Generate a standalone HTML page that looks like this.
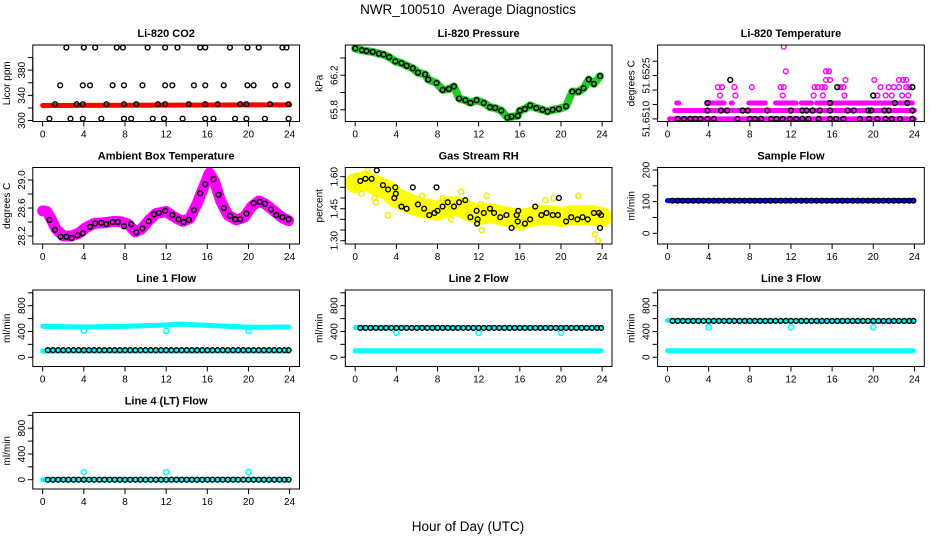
<!DOCTYPE html>
<html><head><meta charset="utf-8"><style>
html,body{margin:0;padding:0;background:#fff;}
svg{display:block;font-family:"Liberation Sans",Arial,sans-serif;}
</style></head><body>
<svg id="chart" width="936" height="540" viewBox="0 0 936 540" xmlns="http://www.w3.org/2000/svg">
<text x="468" y="14" text-anchor="middle" font-size="13.5">NWR_100510&#160;&#160;Average Diagnostics</text>
<text x="468" y="531" text-anchor="middle" font-size="13.5">Hour of Day (UTC)</text>
</svg>
<script>
// ---------- data ----------
const xTicks=[0,4,8,12,16,20,24];
const flowHours=[0.5,1.0,1.5,2.0,2.5,3.0,3.5,4.0,4.5,5.0,5.5,6.0,6.5,7.0,7.5,8.0,8.5,9.0,9.5,10.0,10.5,11.0,11.5,12.0,12.5,13.0,13.5,14.0,14.5,15.0,15.5,16.0,16.5,17.0,17.5,18.0,18.5,19.0,19.5,20.0,20.5,21.0,21.5,22.0,22.5,23.0,23.5,23.9];
const bandHours=[0,4,8,12,13.5,16,20,24];
const dipHours=[4,12,20];

const co2Hours=[2.3,4.0,5.1,7.2,7.8,10.2,11.9,13.1,15.3,15.8,18.2,19.9,21,23.3,23.7,
 1.7,3.9,4.6,6.8,7.9,9.7,11.9,12.6,14.7,15.8,17.6,19.9,20.5,22.6,23.8,
 1.2,3.3,3.9,6.2,7.9,9.1,11.2,11.9,14.2,15.8,17,19.2,19.8,22.1,23.9,
 0.65,2.7,3.9,5.7,7.9,8.6,10.7,11.8,13.6,15.8,16.6,18.7,19.8,21.6,23.9];
const co2Vals=[416,416,416,416,416,416,416,416,416,416,416,416,416,416,416,
 356,356,356,356,356,356,356,356,356,356,356,356,356,356,356,
 326,326,326,326,326,326,326,326,326,326,326,326,326,326,326,
 303,303,303,303,303,303,303,303,303,303,303,303,303,303,303];
const co2BandHours=[0,24];
const co2BandVals=[324,325];

const presHours=[0,0.65,1.1,1.7,2.3,2.75,3.3,3.9,4.5,5.0,5.6,6.1,6.8,7.1,7.9,8.5,9.1,9.6,10.1,10.7,11.2,11.8,12.5,13.1,13.6,14.2,14.8,15.2,15.8,16.0,16.5,17.0,17.6,18.2,18.7,19.2,19.8,20.5,21.1,21.7,22.2,22.7,23.2,23.8];
const presVals=[66.51,66.49,66.48,66.47,66.45,66.44,66.41,66.36,66.34,66.31,66.28,66.23,66.21,66.15,66.11,66.03,66.04,66.07,65.93,65.91,65.88,65.91,65.88,65.83,65.82,65.79,65.71,65.72,65.73,65.79,65.81,65.85,65.82,65.80,65.78,65.80,65.81,65.84,66.01,66.01,66.05,66.15,66.10,66.19];

const tempBlackHours=[1.0,1.6,2.2,2.7,3.2,3.9,4.5,6.8,8.0,8.5,9.1,10.1,10.6,11.2,11.9,12.5,13.1,13.7,14.7,15.8,16.4,17.1,18.7,19.6,20.4,21.2,21.8,22.6,23.8,
 3.9,5.2,5.8,7.3,7.8,9.7,12.0,13.1,13.5,14.1,14.8,15.8,17.5,18.1,19.5,19.8,21.1,21.5,23.8,
 3.9,15.8,22.1,23.3,20.0,16.5,23.8,6.1];
const tempBlackVals=[51.6510,51.6510,51.6510,51.6510,51.6510,51.6510,51.6510,51.6510,51.6510,51.6510,51.6510,51.6510,51.6510,51.6510,51.6510,51.6510,51.6510,51.6510,51.6510,51.6510,51.6510,51.6510,51.6510,51.6510,51.6510,51.6510,51.6510,51.6510,51.6510,
 51.65129,51.65129,51.65129,51.65129,51.65129,51.65129,51.65129,51.65129,51.65129,51.65129,51.65129,51.65129,51.65129,51.65129,51.65129,51.65129,51.65129,51.65129,51.65129,
 51.65155,51.65155,51.65155,51.65155,51.65181,51.6521,51.6521,51.65235];
const tempRowVals=[51.6510,51.65129,51.65155,51.65155,51.65155,51.65155,51.65155,51.65155,51.65155,51.65155,51.65155,51.65155];
const tempRowStart=[0.2,0.7,0.9,3.8,6.2,7.9,10.5,13.0,14.5,17.3,19.7,22.5];
const tempRowEnd=[24,24,1.1,5.5,6.3,9.5,12.5,14.0,17.0,19.5,22.0,23.8];
const tempMagHours=[4.9,5.3,6.5,8.2,11.0,11.3,14.3,14.6,15.0,15.3,16.8,17.1,20.7,21.5,22.0,22.5,23.2,23.5,
 5.1,6.6,11.2,14.2,15.1,17.2,20.4,21.2,21.8,22.8,23.4,
 15.4,15.8,17.3,20.1,22.5,22.9,23.2,11.5,15.4,15.7,11.3];
const tempMagVals=[51.6521,51.6521,51.6521,51.6521,51.6521,51.6521,51.6521,51.6521,51.6521,51.6521,51.6521,51.6521,51.6521,51.6521,51.6521,51.6521,51.6521,51.6521,
 51.65181,51.65181,51.65181,51.65181,51.65181,51.65181,51.65181,51.65181,51.65181,51.65181,51.65181,
 51.65235,51.65235,51.65235,51.65235,51.65235,51.65235,51.65235,51.65265,51.65265,51.65265,51.6535];

const ambHours=[0.65,1.2,1.75,2.3,2.8,3.4,3.9,4.6,5.1,5.7,6.2,6.8,7.3,7.9,8.6,9.1,9.7,10.3,10.8,11.3,11.9,12.6,13.2,13.7,14.2,14.7,15.3,15.8,16.6,17.1,17.6,18.2,18.7,19.2,19.8,20.5,21.1,21.6,22.2,22.7,23.3,23.9];
const ambVals=[28.43,28.29,28.19,28.19,28.17,28.21,28.24,28.33,28.38,28.39,28.37,28.40,28.40,28.34,28.37,28.25,28.31,28.41,28.51,28.53,28.56,28.50,28.44,28.40,28.43,28.57,28.81,28.94,29.01,28.79,28.60,28.49,28.44,28.44,28.52,28.67,28.69,28.66,28.58,28.50,28.47,28.44];
const ambBandHours=[0,0.4,0.8,1.3,2.0,2.8,3.5,4.2,5.0,6.0,7.0,7.7,8.3,9.0,9.6,10.3,11.0,12.0,12.8,13.6,14.3,15.0,15.7,16.2,16.7,17.3,18.0,18.8,19.6,20.3,21.0,21.6,22.4,23.2,23.9];
const ambBandVals=[28.56,28.55,28.45,28.30,28.20,28.20,28.24,28.32,28.38,28.39,28.41,28.40,28.37,28.26,28.30,28.42,28.52,28.55,28.47,28.41,28.45,28.66,28.92,29.10,28.98,28.70,28.50,28.43,28.47,28.62,28.70,28.66,28.57,28.47,28.42];

const rhHours=[0.5,1.0,1.6,2.1,2.7,3.2,3.8,3.9,3.95,4.5,5.0,5.6,6.1,6.7,7.2,7.7,7.9,8.0,8.5,9.0,9.6,10.1,10.7,11.2,11.8,11.85,11.9,12.5,13.1,13.5,14.1,14.7,15.2,15.7,15.8,15.85,16.5,17.0,17.5,18.1,18.6,19.2,19.7,19.8,20.5,21.0,21.6,22.1,22.6,23.2,23.7,23.8,23.9];
const rhVals=[1.58,1.59,1.59,1.63,1.56,1.54,1.50,1.55,1.52,1.46,1.45,1.55,1.47,1.45,1.42,1.43,1.55,1.44,1.46,1.48,1.46,1.48,1.49,1.41,1.44,1.38,1.40,1.43,1.45,1.43,1.41,1.42,1.36,1.42,1.39,1.44,1.38,1.40,1.46,1.42,1.43,1.42,1.42,1.50,1.39,1.41,1.40,1.41,1.40,1.43,1.43,1.36,1.42];
const rhBandHours=[0,1,2,3,4,5,6,7,8,9,10,11,12,13,14,15,16,17,18,19,20,21,22,23,24];
const rhBandVals=[1.57,1.58,1.56,1.54,1.50,1.48,1.46,1.45,1.44,1.46,1.46,1.44,1.42,1.43,1.42,1.41,1.40,1.41,1.42,1.42,1.41,1.42,1.42,1.42,1.41];
const rhOutHours=[0.1,0.6,1.9,2.0,4.4,12.8,12.2,15.5,16.2,19.3,21.7,23.3,23.6,12.3,8.5,10.3,18.5,3.2,1.2,0.2,6.5,9.3];
const rhOutVals=[1.60,1.52,1.50,1.48,1.47,1.51,1.47,1.37,1.36,1.50,1.51,1.33,1.30,1.35,1.50,1.53,1.49,1.42,1.63,1.55,1.51,1.40];

const sampleVal=103, sampleBlack=103;
const line1Upper=[480,470,480,500,515,495,465,470], line1Lower=94, line1Black=110, line1Dip=410;
const line2Upper=[460,460,460,460,460,460,460,460], line2Lower=100, line2Black=455, line2Dip=380;
const line3Upper=[570,565,565,565,560,560,555,560], line3Lower=100, line3Black=564, line3Dip=465;
const line4Cyan=0, line4Black=0, line4Dip=118;

// ---------- layout ----------
const NS='http://www.w3.org/2000/svg';
const svg=document.getElementById('chart');
const colLeft=[32.8,345.3,657.6], boxW=266.7;
const rowTop=[45,167.5,290,412.5], boxH=76.5;
const XMIN=-0.96, XMAX=24.96;
function el(tag,attrs,parent){const e=document.createElementNS(NS,tag);for(const k in attrs)e.setAttribute(k,attrs[k]);(parent||svg).appendChild(e);return e;}

function makePanel(p){
  const L=colLeft[p.col],T=rowTop[p.row];
  const g=el('g',{});
  
  
  const sx=h=>L+(h-XMIN)/(XMAX-XMIN)*boxW;
  const sy=v=>T+boxH-(v-p.ymin)/(p.ymax-p.ymin)*boxH;
  const cid='clip'+p.name;
  const cp=el('clipPath',{id:cid},g);el('rect',{x:L,y:T,width:boxW,height:boxH},cp);
  const plot=el('g',{'clip-path':'url(#'+cid+')'},g);
  
  
  p.draw(plot,sx,sy);
  const box=el('rect',{x:L,y:T,width:boxW,height:boxH,fill:'none',stroke:'#000','stroke-width':1},g);
  
  
  const xa=el('g',{},g);
  
  
  el('line',{x1:sx(xTicks[0]),x2:sx(xTicks[xTicks.length-1]),y1:T+boxH,y2:T+boxH,stroke:'#000'},xa);
  xTicks.forEach(t=>{
    el('line',{x1:sx(t),x2:sx(t),y1:T+boxH,y2:T+boxH+5,stroke:'#000'},xa);
    const tx=el('text',{x:sx(t),y:T+boxH+16,'text-anchor':'middle','font-size':10},xa);tx.textContent=t;
    
    
  });
  const ya=el('g',{},g);
  
  
  el('line',{x1:L,x2:L,y1:sy(p.yticks[0]),y2:sy(p.yticks[p.yticks.length-1]),stroke:'#000'},ya);
  p.yticks.forEach(t=>el('line',{x1:L-5,x2:L,y1:sy(t),y2:sy(t),stroke:'#000'},ya));
  p.ylabels.forEach((t,i)=>{
    const yy=sy(p.ylabelVals[i]);
    const tx=el('text',{x:L-8,y:yy,'text-anchor':'middle','font-size':10,transform:'rotate(-90 '+(L-8)+' '+yy+')'},ya);tx.textContent=t;
    
    
  });
  const yt=el('text',{x:L-23,y:T+boxH/2,'text-anchor':'middle','font-size':10,transform:'rotate(-90 '+(L-23)+' '+(T+boxH/2)+')'},g);yt.textContent=p.ylab;
  
  
  const tt=el('text',{x:L+boxW/2,y:T-8,'text-anchor':'middle','font-size':11,'font-weight':'bold'},g);tt.textContent=p.title;
  
  
}
function circles(g,hs,vs,sx,sy,color,r,sw,name){
  hs.forEach((h,i)=>{const c=el('circle',{cx:sx(h),cy:sy(vs[i]),r:r||2.4,fill:'none',stroke:color,'stroke-width':sw||1.4},g);
    
    });
}
function band(g,hs,vs,sx,sy,color,w,name){
  const pl=el('polyline',{points:hs.map((h,i)=>sx(h)+','+sy(vs[i])).join(' '),fill:'none',stroke:color,'stroke-width':w,'stroke-linejoin':'round','stroke-linecap':'round'},g);
  
  
}
function flowPanel(name,col,row,title,upper,lower,black,dip,showLower){
  return {name,col,row,title,ylab:'ml/min',ymin:-144,ymax:1044,yticks:[0,200,400,600,800,1000],ylabels:['0','400','800'],ylabelVals:[0,400,800],
   draw:(g,sx,sy)=>{
     if(showLower) band(g,[0,23.9],[lower,lower],sx,sy,'#00ffff',5,'cyan-lower-band');
     band(g,bandHours.map(h=>Math.min(h,23.9)),upper,sx,sy,'#00ffff',5,'cyan-upper-band');
     circles(g,dipHours,dipHours.map(()=>dip),sx,sy,'#00ffff',2.6,1.5,'cyan-point');
     circles(g,flowHours,flowHours.map(()=>black),sx,sy,'#000',2.4,1.4,'black-point');
   }};
}
const panels=[
 {name:'co2-panel',col:0,row:0,title:'Li-820 CO2',ylab:'Licor ppm',ymin:298.5,ymax:420,yticks:[300,320,340,360,380,400],ylabels:['300','340','380'],ylabelVals:[300,340,380],
  draw:(g,sx,sy)=>{band(g,co2BandHours,co2BandVals,sx,sy,'#ff0000',5,'co2-red-band');circles(g,co2Hours,co2Vals,sx,sy,'#000',2.4,1.4,'co2-point');}},
 {name:'pressure-panel',col:1,row:0,title:'Li-820 Pressure',ylab:'kPa',ymin:65.664,ymax:66.55,yticks:[65.8,66.0,66.2,66.4],ylabels:['65.8','66.2'],ylabelVals:[65.8,66.2],
  draw:(g,sx,sy)=>{band(g,presHours,presVals,sx,sy,'#22cc22',8,'pressure-green-band');circles(g,presHours,presVals,sx,sy,'#000',2.4,1.5,'pressure-point');}},
 {name:'temperature-panel',col:2,row:0,title:'Li-820 Temperature',ylab:'degrees C',ymin:51.65091,ymax:51.65356,yticks:[51.6510,51.6515,51.6520,51.6525,51.6530],ylabels:['51.6510','51.6525'],ylabelVals:[51.6510,51.6525],
  draw:(g,sx,sy)=>{
    tempRowVals.forEach((v,i)=>{const l=el('line',{x1:sx(tempRowStart[i]),x2:sx(tempRowEnd[i]),y1:sy(v),y2:sy(v),stroke:'#ff00ff','stroke-width':5,'stroke-linecap':'round'},g);
      
      });
    circles(g,tempMagHours,tempMagVals,sx,sy,'#ff00ff',2.4,1.4,'magenta-point');
    circles(g,tempBlackHours,tempBlackVals,sx,sy,'#000',2.4,1.5,'temp-point');}},
 {name:'ambient-panel',col:0,row:1,title:'Ambient Box Temperature',ylab:'degrees C',ymin:28.086,ymax:29.179,yticks:[28.2,28.4,28.6,28.8,29.0],ylabels:['28.2','28.6','29.0'],ylabelVals:[28.2,28.6,29.0],
  draw:(g,sx,sy)=>{band(g,ambBandHours,ambBandVals,sx,sy,'#ff00ff',11,'ambient-magenta-band');circles(g,ambHours,ambVals,sx,sy,'#000',2.4,1.5,'ambient-point');}},
 {name:'rh-panel',col:1,row:1,title:'Gas Stream RH',ylab:'percent',ymin:1.2845,ymax:1.643,yticks:[1.30,1.35,1.40,1.45,1.50,1.55,1.60],ylabels:['1.30','1.45','1.60'],ylabelVals:[1.30,1.45,1.60],
  draw:(g,sx,sy)=>{band(g,rhBandHours,rhBandVals,sx,sy,'#ffff00',20,'rh-yellow-band');circles(g,rhOutHours,rhOutVals,sx,sy,'#eeee00',2.6,1.5,'rh-yellow-point');circles(g,rhHours,rhVals,sx,sy,'#000',2.4,1.4,'rh-point');}},
 {name:'sample-flow-panel',col:2,row:1,title:'Sample Flow',ylab:'ml/min',ymin:-33.8,ymax:207.8,yticks:[0,50,100,150,200],ylabels:['0','100','200'],ylabelVals:[0,100,200],
  draw:(g,sx,sy)=>{band(g,[0,23.9],[sampleVal,sampleVal],sx,sy,'#0000ff',5,'sample-blue-band');circles(g,flowHours,flowHours.map(()=>sampleBlack),sx,sy,'#000',2.4,1.4,'sample-point');}},
 flowPanel('line1-flow-panel',0,2,'Line 1 Flow',line1Upper,line1Lower,line1Black,line1Dip,true),
 flowPanel('line2-flow-panel',1,2,'Line 2 Flow',line2Upper,line2Lower,line2Black,line2Dip,true),
 flowPanel('line3-flow-panel',2,2,'Line 3 Flow',line3Upper,line3Lower,line3Black,line3Dip,true),
 flowPanel('line4-flow-panel',0,3,'Line 4 (LT) Flow',bandHours.map(()=>line4Cyan),line4Cyan,line4Black,line4Dip,false)
];
panels.forEach(makePanel);
</script>
</body></html>
